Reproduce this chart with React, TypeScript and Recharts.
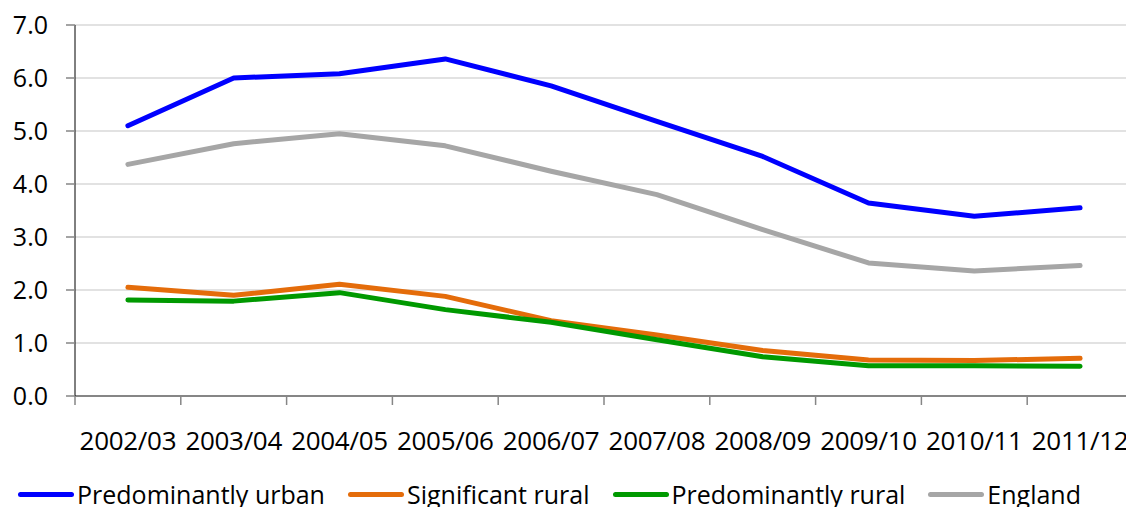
import { LineChart, Line, XAxis, YAxis, CartesianGrid, Legend } from 'recharts';

const years = [
  '2002/03', '2003/04', '2004/05', '2005/06', '2006/07',
  '2007/08', '2008/09', '2009/10', '2010/11', '2011/12',
];
const urban = [5.1, 6.0, 6.08, 6.36, 5.85, 5.18, 4.52, 3.64, 3.39, 3.55];
const significantRural = [2.05, 1.9, 2.11, 1.88, 1.42, 1.15, 0.86, 0.68, 0.67, 0.71];
const predominantlyRural = [1.81, 1.79, 1.95, 1.63, 1.39, 1.06, 0.74, 0.57, 0.57, 0.56];
const england = [4.37, 4.76, 4.95, 4.72, 4.24, 3.8, 3.14, 2.51, 2.36, 2.46];
const yTicks = [0, 1, 2, 3, 4, 5, 6, 7];

const series = [
  { key: 'urban', name: 'Predominantly urban', color: '#0000ff', values: urban },
  { key: 'sigRural', name: 'Significant rural', color: '#e46c0a', values: significantRural },
  { key: 'predRural', name: 'Predominantly rural', color: '#009900', values: predominantlyRural },
  { key: 'england', name: 'England', color: '#a6a6a6', values: england },
];

const data = years.map((year, i) => {
  const row: Record<string, number | string> = { idx: i, year };
  series.forEach((s) => { row[s.key] = s.values[i]; });
  return row;
});

// labels sit on whole indexes, tick marks on the band edges between them
const xTicks: number[] = [];
for (let i = -0.5; i <= years.length - 0.5; i += 0.5) xTicks.push(i);

const FONT = '"Open Sans", sans-serif';

function XTick({ x, y, payload }: any) {
  const v = payload.value as number;
  if (Number.isInteger(v)) {
    return (
      <text x={x} y={y + 36} dy="0.71em" textAnchor="middle" fontSize={26} fill="#000" fontFamily={FONT} letterSpacing={-0.3}>
        {years[v]}
      </text>
    );
  }
  return <line x1={x} x2={x} y1={y} y2={y + 9} stroke="#868686" strokeWidth={1.5} />;
}

function LegendContent() {
  return (
    <div style={{ display: 'flex', alignItems: 'center', height: 30, paddingLeft: 18, fontFamily: FONT, fontSize: 25, color: '#000' }}>
      {series.map((s) => (
        <div key={s.key} style={{ display: 'flex', alignItems: 'center', marginRight: 23 }}>
          <span style={{ display: 'inline-block', width: 56, height: 5, borderRadius: 3, background: s.color, marginRight: 3 }} />
          <span style={{ whiteSpace: 'nowrap' }}>{s.name}</span>
        </div>
      ))}
    </div>
  );
}

export default function App() {
  return (
    <div style={{ position: 'absolute', left: 0, top: 0, width: 1126, height: 507, overflow: 'hidden', background: '#fff' }}>
      <LineChart width={1140} height={507} data={data} margin={{ top: 25, right: 7, bottom: 21, left: 0 }}>
        <CartesianGrid horizontal vertical={false} stroke="#d9d9d9" strokeWidth={1.5} />
        <XAxis
          dataKey="idx"
          type="number"
          domain={[-0.5, years.length - 0.5]}
          ticks={xTicks}
          interval={0}
          tick={<XTick />}
          tickLine={false}
          tickSize={0}
          tickMargin={0}
          height={60}
          axisLine={{ stroke: '#868686', strokeWidth: 2 }}
        />
        <YAxis
          domain={[0, 7]}
          ticks={yTicks}
          interval={0}
          width={75}
          tickFormatter={(v: number) => v.toFixed(1)}
          tick={{ fontSize: 25, fill: '#000', fontFamily: FONT }}
          tickSize={9}
          tickMargin={18}
          tickLine={{ stroke: '#868686', strokeWidth: 1.5 }}
          axisLine={{ stroke: '#000', strokeWidth: 1 }}
        />
        <Legend
          verticalAlign="bottom"
          content={<LegendContent />}
          wrapperStyle={{ left: 0, top: 479, width: 1140 }}
        />
        {series.map((s) => (
          <Line
            key={s.key}
            type="linear"
            dataKey={s.key}
            name={s.name}
            stroke={s.color}
            strokeWidth={5}
            strokeLinecap="round"
            strokeLinejoin="round"
            dot={false}
            activeDot={false}
            isAnimationActive={false}
          />
        ))}
      </LineChart>
    </div>
  );
}
